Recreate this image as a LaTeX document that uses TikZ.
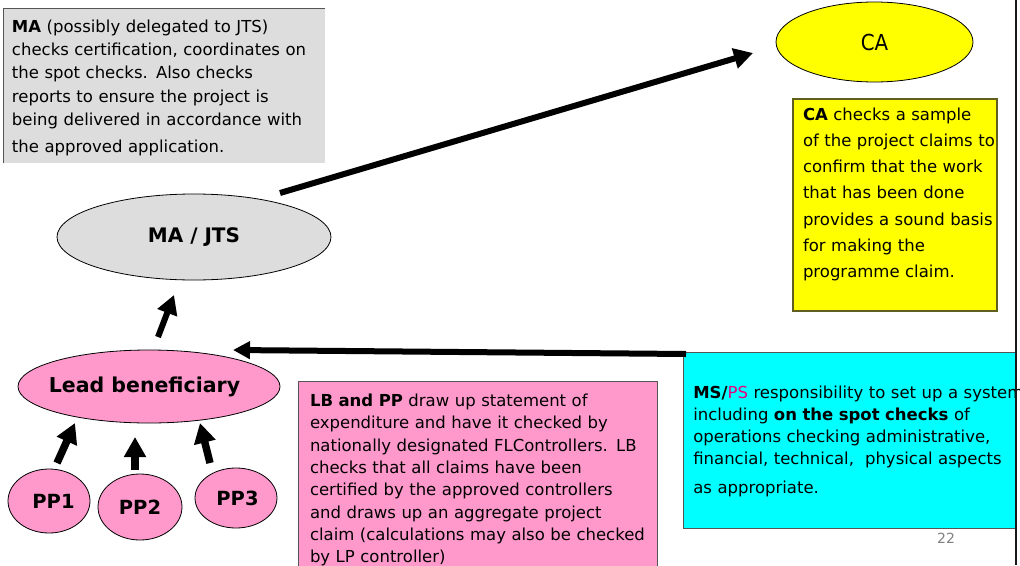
\documentclass[tikz,border=0pt]{standalone}
\usepackage{fontspec}
\setmainfont{DejaVu Sans}
\usepackage{graphicx}
\usetikzlibrary{arrows.meta,shapes.geometric}

\definecolor{panelgrey}{RGB}{221,221,221}
\definecolor{edgegrey}{RGB}{85,85,85}
\definecolor{partnerpink}{RGB}{255,153,204}
\definecolor{authyellow}{RGB}{255,255,0}
\definecolor{systemcyan}{RGB}{0,255,255}
\definecolor{psmagenta}{RGB}{230,0,126}
\definecolor{oliveedge}{RGB}{95,95,30}
\definecolor{pagegrey}{RGB}{128,128,128}

\begin{document}
\begin{tikzpicture}[x=1pt,y=-1pt,
  every node/.style={inner sep=0pt,outer sep=0pt},
  oval/.style={ellipse,draw=black,line width=0.8pt},
  panel/.style={rectangle,anchor=north west,draw=edgegrey,line width=1pt},
  notetext/.style={anchor=base west,text width=420pt,align=left},
  ovallabel/.style={font=\fontsize{20}{24}\selectfont\bfseries},
  bigarrow/.style={line width=6pt,-{Triangle[length=19pt,width=20pt]}},
  midarrow/.style={line width=6pt,-{Triangle[length=17pt,width=17pt]}},
  stubarrow/.style={line width=7.5pt,-{Triangle[length=20pt,width=21pt]}},
]
\useasboundingbox (0,0) rectangle (1020,565);

% managing authority note (top left)
\node[rectangle,anchor=north west,fill=panelgrey,minimum width=322pt,minimum height=155pt] (manote) at (3,8) {};
\draw[edgegrey,line width=1pt] (manote.south west) -- (manote.north west) -- (manote.north east);
\node[notetext,font=\fontsize{16.5}{23.3}\selectfont] (manotetext) at ([shift={(9,24.3)}]manote.north west)
  {\textbf{MA} (possibly delegated to JTS)\\
   checks certification, coordinates on\\
   the spot checks. Also checks\\
   reports to ensure the project is\\
   being delivered in accordance with\\[3.5pt]
   the approved application.};

% certifying authority note
\node[panel,draw=oliveedge,line width=1.3pt,fill=authyellow,minimum width=204pt,minimum height=212pt] (canote) at (793,99) {};
\node[notetext,font=\fontsize{16.5}{26.3}\selectfont] (canotetext) at ([shift={(10,21)}]canote.north west)
  {\textbf{CA} checks a sample\\
   of the project claims to\\
   confirm that the work\\
   that has been done\\
   provides a sound basis\\
   for making the\\
   programme claim.};

% member state note
\node[panel,fill=systemcyan,minimum width=332pt,minimum height=176pt] (msnote) at (683,352) {};
\node[notetext,font=\fontsize{16.5}{22.3}\selectfont] (msnotetext) at ([shift={(10.3,46)}]msnote.north west)
  {\textbf{MS/}\textcolor{psmagenta}{PS} responsibility to set up a system\\
   including \textbf{on the spot checks} of\\
   operations checking administrative,\\
   financial, technical,\ \ physical aspects\\[6pt]
   as appropriate.};

% beneficiaries note
\node[panel,fill=partnerpink,minimum width=359pt,minimum height=195pt] (lbnote) at (298,381) {};
\node[notetext,font=\fontsize{16.5}{22.3}\selectfont] (lbnotetext) at ([shift={(12,25.5)}]lbnote.north west)
  {\textbf{LB and PP} draw up statement of\\
   expenditure and have it checked by\\
   nationally designated FLControllers. LB\\
   checks that all claims have been\\
   certified by the approved controllers\\
   and draws up an aggregate project\\
   claim (calculations may also be checked\\
   by LP controller)};

% actors
\node[oval,fill=panelgrey,minimum width=274pt,minimum height=86pt,ovallabel] (ma) at (194,237)
  {\makebox[0pt]{\raisebox{-2pt}{MA / JTS}}};
\node[oval,fill=authyellow,minimum width=197pt,minimum height=80pt,font=\fontsize{22}{26}\selectfont] (ca) at (874.5,42)
  {\makebox[0pt]{\scalebox{0.9}[1]{CA}}};
\node[oval,fill=partnerpink,minimum width=262pt,minimum height=73pt,ovallabel,font=\fontsize{20.5}{24}\selectfont\bfseries] (lb) at (149,386.5)
  {\makebox[0pt]{\kern-9pt\raisebox{-2.5pt}{Lead beneficiary}}};
\node[oval,fill=partnerpink,minimum width=82pt,minimum height=64pt,font=\fontsize{19.5}{23}\selectfont\bfseries] (pp1) at (49,501)
  {\makebox[0pt]{\kern9pt\raisebox{-2.5pt}{PP1}}};
\node[oval,fill=partnerpink,minimum width=84pt,minimum height=66pt,font=\fontsize{19.5}{23}\selectfont\bfseries] (pp2) at (140,507)
  {\makebox[0pt]{\raisebox{-5pt}{PP2}}};
\node[oval,fill=partnerpink,minimum width=82pt,minimum height=60pt,font=\fontsize{19.5}{23}\selectfont\bfseries] (pp3) at (236,498)
  {\makebox[0pt]{\kern3pt\raisebox{-3.5pt}{PP3}}};

% page number
\node[text=pagegrey,font=\fontsize{14}{16}\selectfont] (pagenum) at (946,538) {22};

% flows
\draw[bigarrow] ([shift={(86,-44)}]ma.center) -- ([shift={(-121.5,11)}]ca.center);
\draw[midarrow] ([shift={(3,2)}]msnote.north west) -- ([shift={(84,-36.5)}]lb.center);
\draw[bigarrow] ([shift={(9,-49.5)}]lb.center) -- ([shift={(-20,58)}]ma.center);
\draw[stubarrow] ([shift={(8,-38)}]pp1.center) -- ([shift={(-74,36.5)}]lb.center);
\draw[stubarrow] ([shift={(-5,-37)}]pp2.center) -- ([shift={(-14,50.5)}]lb.center);
\draw[stubarrow] ([shift={(-26,-35)}]pp3.center) -- ([shift={(51,36.5)}]lb.center);

% slide edge
\draw[line width=2.3pt,black!90] (1016,0) -- (1016,565);
\end{tikzpicture}
\end{document}
